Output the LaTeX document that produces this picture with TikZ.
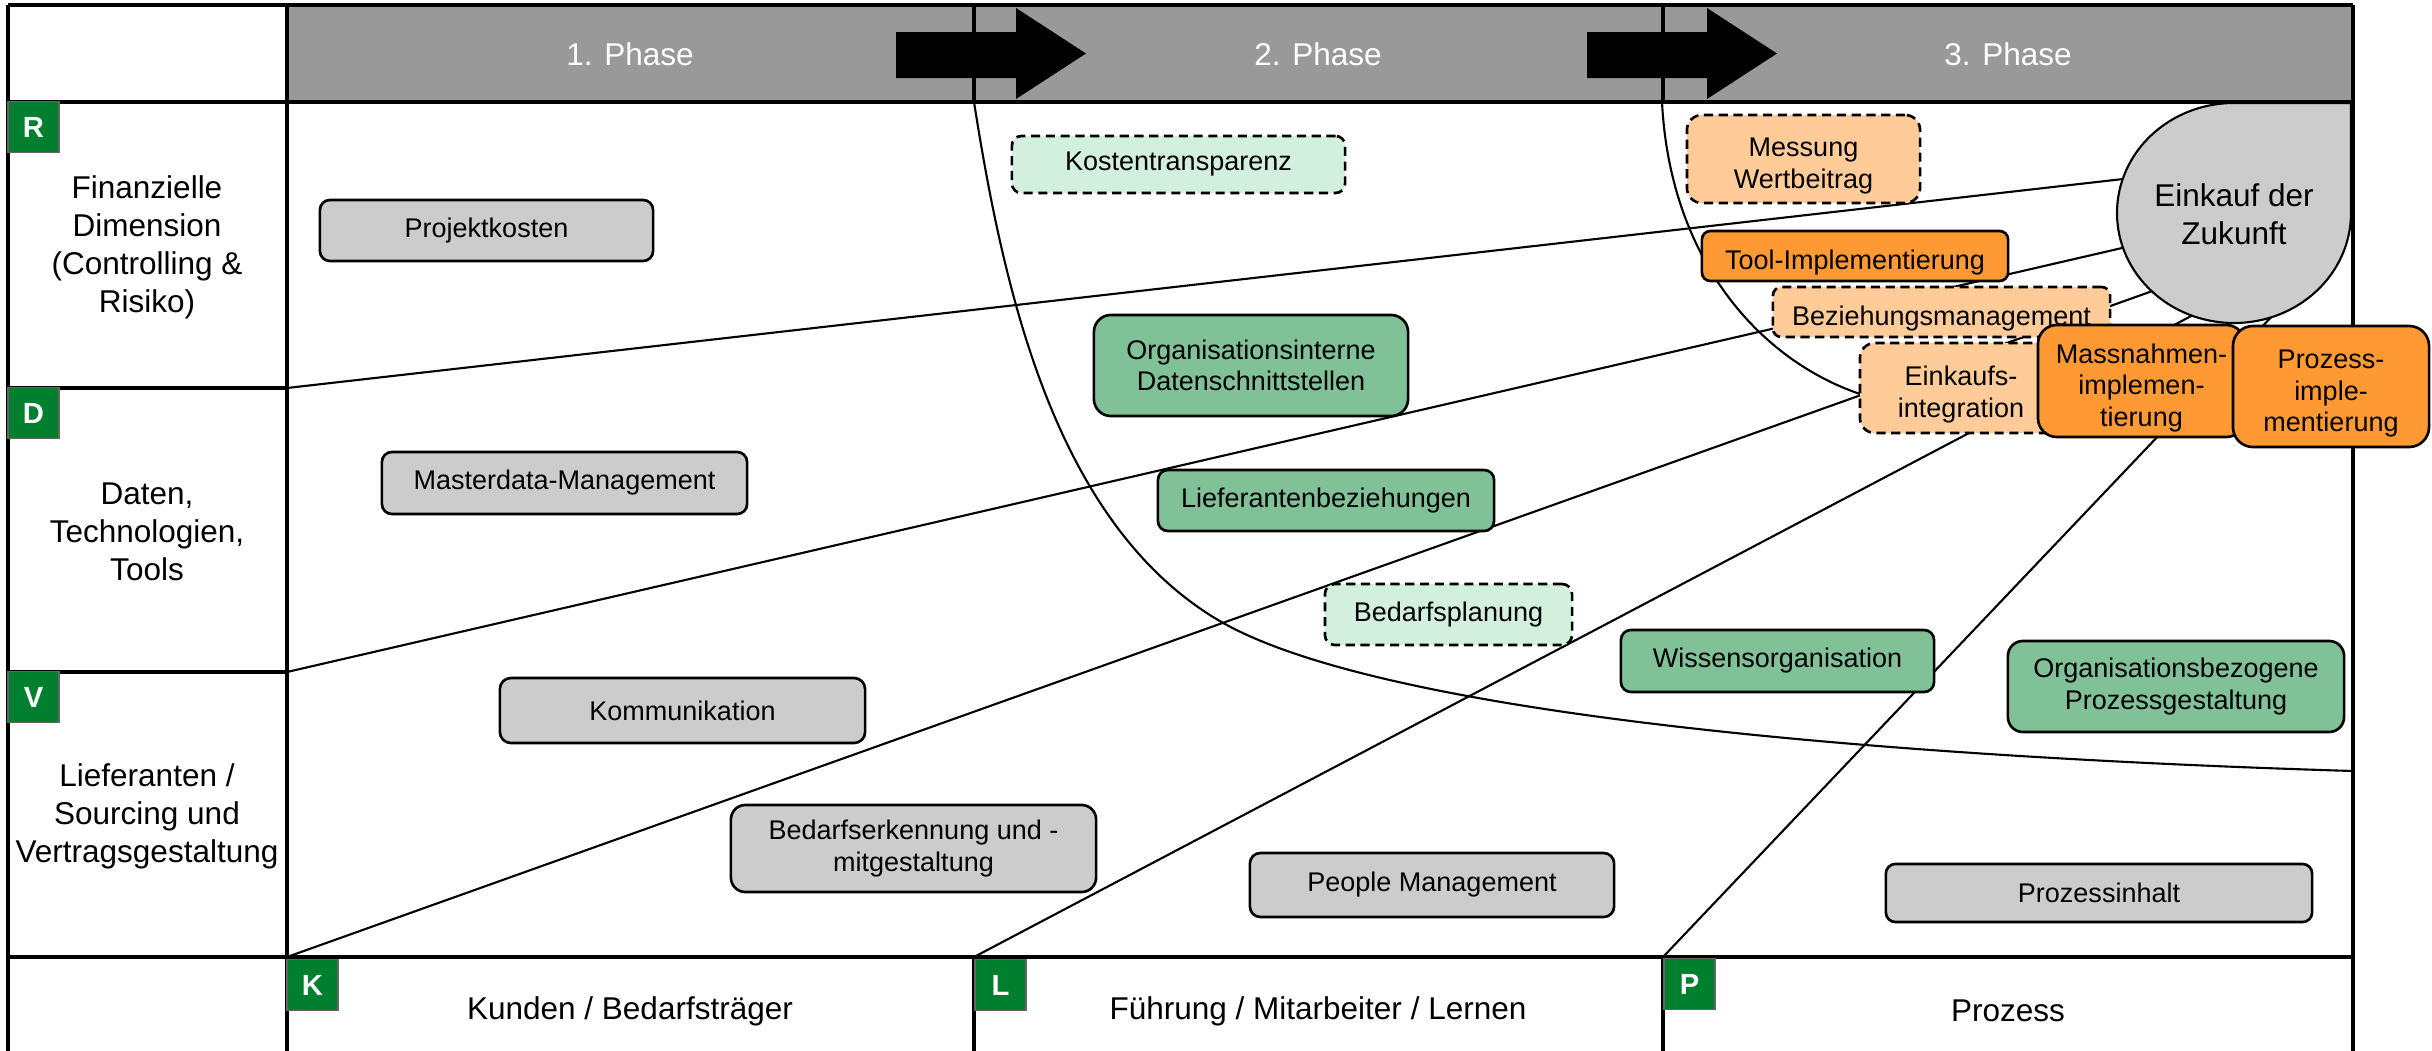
\documentclass[tikz,border=0pt]{standalone}
\usepackage{tikz}
\usepackage{fontspec}
\setmainfont{Liberation Sans}
\definecolor{headgray}{HTML}{999999}
\definecolor{boxgray}{HTML}{CCCCCC}
\definecolor{midgreen}{HTML}{80C197}
\definecolor{lightgreen}{HTML}{D3EFDD}
\definecolor{lightorange}{HTML}{FFCC99}
\definecolor{deeporange}{HTML}{FF9933}
\definecolor{lettergreen}{HTML}{00802F}
\newcommand\lowstrut{\rule{0pt}{0.33cm}}
\begin{document}
\begin{tikzpicture}[x=0.01cm,y=-0.01cm,
  tbl/.style={line width=0.9pt, draw=black},
  thinline/.style={line width=0.6pt, draw=black},
  bx/.style={draw=black, line width=0.75pt, align=center, inner sep=0pt,
    font=\fontsize{7.68}{8.96}\selectfont, text=black},
  lowtext/.style={execute at begin node={\lowstrut}},
  graybox/.style={bx, fill=boxgray},
  greenbox/.style={bx, fill=midgreen},
  lgreenbox/.style={bx, fill=lightgreen, dash pattern=on 2.6pt off 1.6pt},
  lorangebox/.style={bx, fill=lightorange, dash pattern=on 2.6pt off 1.6pt},
  orangebox/.style={bx, fill=deeporange},
  rowlabel/.style={align=center, inner sep=0pt, font=\fontsize{8.96}{10.81}\selectfont},
  headlabel/.style={inner sep=0pt, text=white, font=\fontsize{8.96}{10.81}\selectfont},
  letter/.style={draw=black!60, line width=0.4pt, fill=lettergreen, text=white,
    inner sep=0pt, minimum width=0.51cm, minimum height=0.51cm,
    font=\fontsize{8.3}{9}\selectfont\bfseries}
]
\useasboundingbox (0,0) rectangle (2432,1051);
\clip (0,0) rectangle (2432,1051);

% header band
\fill[headgray] (287,5) rectangle (2353,102);
\fill[black] (896,32) -- (1016,32) -- (1016,8) -- (1086,53.5) -- (1016,99) -- (1016,78) -- (896,78) -- cycle;
\fill[black] (1587,32) -- (1707,32) -- (1707,8) -- (1777,53.5) -- (1707,99) -- (1707,78) -- (1587,78) -- cycle;
\draw[tbl] (974,5) -- (974,102);
\draw[tbl] (1663,5) -- (1663,102);

\node[headlabel] (h1) at (630,54) {1. Phase};
\node[headlabel] (h2) at (1318,54) {2. Phase};
\node[headlabel] (h3) at (2008,54) {3. Phase};

% table frame
\draw[tbl] (8,5) -- (2353,5);
\draw[tbl] (8,5) -- (8,1080);
\draw[tbl] (287,5) -- (287,1080);
\draw[tbl] (2353,5) -- (2353,1080);
\draw[tbl] (8,102) -- (2353,102);
\draw[tbl] (8,388) -- (287,388);
\draw[tbl] (8,672) -- (287,672);
\draw[tbl] (8,957) -- (2353,957);
\draw[tbl] (974,957) -- (974,1080);
\draw[tbl] (1663,957) -- (1663,1080);

% named coordinates of the perspective lines
\coordinate (sR) at (287,388);
\coordinate (sV) at (287,672);
\coordinate (sK) at (287,957);
\coordinate (sL) at (974,957);
\coordinate (sP) at (1663,957);
\coordinate (eR) at (2132,178);
\coordinate (eV) at (2132,245.7);
\coordinate (eK) at (2158,289);
\coordinate (eL) at (2195,314);
\coordinate (eP) at (2276,312);
\coordinate (cA0) at (974,102);
\coordinate (cA1) at (1218,620);
\coordinate (cA2) at (2353,771);
\coordinate (cB0) at (1662,102);
\coordinate (cB1) at (1860,394);

% curves
\draw[thinline] (cA0) .. controls (1004,292) and (1055,523) .. (cA1)
                      .. controls (1390,722) and (1954,759) .. (cA2);
\draw[thinline] (cB0) .. controls (1670,260) and (1760,360) .. (cB1);

% perspective lines
\draw[thinline] (sR) -- (eR);
\draw[thinline] (sV) -- (eV);
\draw[thinline] (sK) -- (eK);
\draw[thinline] (sL) -- (eL);
\draw[thinline] (sP) -- (eP);

% teardrop "Einkauf der Zukunft"
\filldraw[fill=boxgray, draw=black, line width=0.6pt]
  (2234,103) -- (2351,103) -- (2351,213)
  .. controls (2351,273.8) and (2298.6,323) .. (2234,323)
  .. controls (2169.4,323) and (2117,273.8) .. (2117,213)
  .. controls (2117,152.2) and (2169.4,103) .. (2234,103) -- cycle;
\node[rowlabel] (ez) at (2234,214) {Einkauf der\\Zukunft};

% row labels
\node[rowlabel] (rR) at (147,247) {Finanzielle\\Dimension\\(Controlling \&\\Risiko)};
\node[rowlabel] (rD) at (147,532) {Daten,\\Technologien,\\Tools};
\node[rowlabel] (rV) at (147,816) {Lieferanten /\\Sourcing und\\Vertragsgestaltung};
\node[rowlabel] (bK) at (630,1011) {Kunden / Bedarfsträger};
\node[rowlabel] (bL) at (1318,1011) {Führung / Mitarbeiter / Lernen};
\node[rowlabel] (bP) at (2008,1011) {Prozess};

% boxes
\node[graybox, minimum width=3.33cm, minimum height=0.61cm, rounded corners=0.10cm] (pk) at (486.5,230.5) {Projektkosten};
\node[lgreenbox, minimum width=3.33cm, minimum height=0.57cm, rounded corners=0.095cm] (kt) at (1178.5,164.5) {Kostentransparenz};
\node[lorangebox, minimum width=2.33cm, minimum height=0.88cm, rounded corners=0.15cm] (mw) at (1803.5,159) {\lowstrut Messung\\Wertbeitrag};
\node[orangebox, lowtext, minimum width=3.06cm, minimum height=0.50cm, rounded corners=0.085cm] (ti) at (1855,256) {Tool-Implementierung};
\node[lorangebox, lowtext, minimum width=3.37cm, minimum height=0.50cm, rounded corners=0.085cm] (bm) at (1941.5,312) {Beziehungsmanagement};
\node[lorangebox, minimum width=2.02cm, minimum height=0.90cm, rounded corners=0.15cm] (ei) at (1961,388) {\lowstrut Einkaufs-\\integration};
\node[greenbox, minimum width=3.14cm, minimum height=1.01cm, rounded corners=0.17cm] (od) at (1251,365.5) {Organisationsinterne\\Datenschnittstellen};
\node[graybox, minimum width=3.65cm, minimum height=0.62cm, rounded corners=0.10cm] (mm) at (564.5,483) {Masterdata-Management};
\node[greenbox, minimum width=3.36cm, minimum height=0.61cm, rounded corners=0.10cm] (lb) at (1326,500.5) {Lieferantenbeziehungen};
\node[lgreenbox, minimum width=2.47cm, minimum height=0.61cm, rounded corners=0.10cm] (bp) at (1448.5,614.5) {Bedarfsplanung};
\node[greenbox, minimum width=3.13cm, minimum height=0.62cm, rounded corners=0.10cm] (wo) at (1777.5,661) {Wissensorganisation};
\node[greenbox, minimum width=3.36cm, minimum height=0.91cm, rounded corners=0.15cm] (op) at (2176,686.5) {Organisationsbezogene\\Prozessgestaltung};
\node[graybox, minimum width=3.65cm, minimum height=0.65cm, rounded corners=0.11cm] (ko) at (682.5,710.5) {Kommunikation};
\node[graybox, minimum width=3.65cm, minimum height=0.87cm, rounded corners=0.145cm] (be) at (913.5,848.5) {Bedarfserkennung und -\\mitgestaltung};
\node[graybox, minimum width=3.64cm, minimum height=0.64cm, rounded corners=0.105cm] (pm) at (1432,885) {People Management};
\node[graybox, minimum width=4.26cm, minimum height=0.58cm, rounded corners=0.095cm] (pi) at (2099,893) {Prozessinhalt};
\node[orangebox, minimum width=2.07cm, minimum height=1.12cm, rounded corners=0.19cm] (mi) at (2141.5,381) {\lowstrut Massnahmen-\\implemen-\\tierung};
\node[orangebox, minimum width=1.96cm, minimum height=1.21cm, rounded corners=0.20cm] (pz) at (2331,386.5) {\lowstrut Prozess-\\imple-\\mentierung};

% letter squares
\node[letter] (lR) at (33.5,127) {R};
\node[letter] (lD) at (33.5,413) {D};
\node[letter] (lV) at (33.5,697) {V};
\node[letter] (lK) at (312.5,985) {K};
\node[letter] (lL) at (1000.5,985) {L};
\node[letter] (lP) at (1689.5,984) {P};
\end{tikzpicture}
\end{document}
